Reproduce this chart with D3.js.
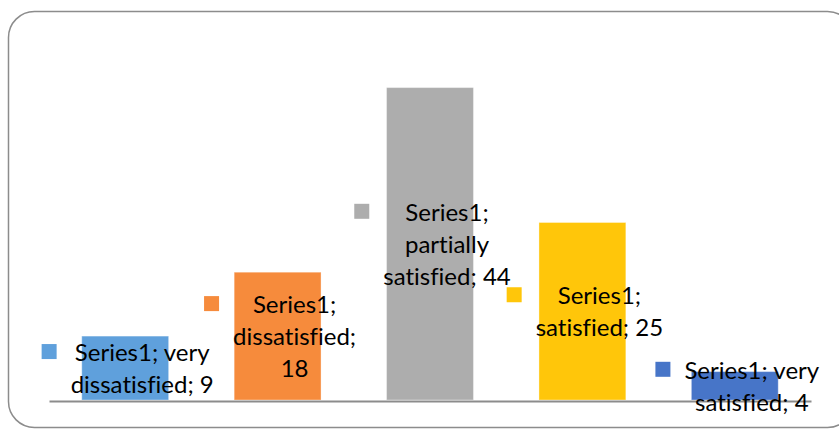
<!DOCTYPE html>
<html>
<head>
<meta charset="utf-8">
<script src="https://cdn.jsdelivr.net/npm/d3@7"></script>
<style>
  body { margin: 0; background: #fff; }
  svg { display: block; }
  .label text { font-variant-ligatures: none; font-feature-settings: "liga" 0; }
</style>
</head>
<body>
<div id="chart"></div>
<script>
  // Data
  const categories = ['very dissatisfied', 'dissatisfied', 'partially satisfied', 'satisfied', 'very satisfied'];
  const values = [9, 18, 44, 25, 4];
  const seriesName = 'Series1';
  // data label text, split into lines as the picture wraps them
  const labelLines = [
    ['Series1; very', 'dissatisfied; 9'],
    ['Series1;', 'dissatisfied;', '18'],
    ['Series1;', 'partially', 'satisfied; 44'],
    ['Series1;', 'satisfied; 25'],
    ['Series1; very', 'satisfied; 4']
  ];
  const colors = ['#5fa0dc', '#f68b3c', '#adadad', '#ffc60a', '#4775c8'];

  const w = 839;
  const h = 429;
  const margin = ({ top: 45, right: 28, bottom: 29, left: 49 });

  const svg = d3.select('#chart')
    .append('svg')
    .attr('width', w)
    .attr('height', h);

  // rounded frame, runs off the right and bottom edge
  svg.append('rect')
    .attr('x', 8.5)
    .attr('y', 11.5)
    .attr('width', 845)
    .attr('height', 416)
    .attr('rx', 26)
    .attr('fill', 'none')
    .attr('stroke', '#8c8c8c')
    .attr('stroke-width', 1.5);

  // Set up scales
  const xScale = d3.scaleBand()
    .domain(categories)
    .range([margin.left, w - margin.right])
    .paddingInner(0.43)
    .paddingOuter(0.215);

  const yScale = d3.scaleLinear()
    .domain([0, 50])
    .range([h - margin.bottom, margin.top]);

  // Draw bars
  svg.selectAll('.bar')
    .data(values)
    .enter()
    .append('rect')
    .attr('class', 'bar')
    .attr('x', (d, i) => xScale(categories[i]))
    .attr('y', d => yScale(d))
    .attr('width', xScale.bandwidth())
    .attr('height', d => yScale(0) - yScale(d))
    .attr('fill', (d, i) => colors[i])
    .attr('stroke', 'rgba(255,255,255,0.35)')
    .attr('stroke-width', 1);

  // x axis line
  const xAxis = d3.axisBottom(xScale)
    .tickSize(0)
    .tickFormat('');

  svg.append('g')
    .classed('x-axis', true)
    .attr('transform', `translate(0, ${yScale(0) + 1})`)
    .call(xAxis);

  svg.select('.x-axis .domain')
    .attr('stroke', '#8c8c8c')
    .attr('stroke-width', 2);

  // Data labels: marker + wrapped text, centred on the middle of the bar
  const lineH = 32;
  const labels = svg.selectAll('.label')
    .data(values)
    .enter()
    .append('g')
    .attr('class', 'label')
    .attr('transform', (d, i) => `translate(${xScale(categories[i]) + xScale.bandwidth() / 2 + 17}, ${yScale(d / 2)})`);

  labels.each(function (d, i) {
    const g = d3.select(this);
    const lines = labelLines[i];
    const first = -(lines.length - 1) * lineH / 2 + 9;
    const text = g.append('text')
      .attr('text-anchor', 'middle')
      .attr('font-family', 'Lato, "Open Sans", sans-serif')
      .attr('font-size', 24)
      .attr('fill', '#000');
    lines.forEach((l, j) => {
      text.append('tspan')
        .attr('x', 0)
        .attr('y', first + j * lineH)
        .text(l);
    });
    const maxW = d3.max(text.selectAll('tspan').nodes(), n => n.getComputedTextLength());
    g.insert('rect', 'text')
      .attr('x', -maxW / 2 - 14 - 15)
      .attr('y', first - 17)
      .attr('width', 15)
      .attr('height', 15)
      .attr('fill', colors[i]);
  });
</script>
</body>
</html>
